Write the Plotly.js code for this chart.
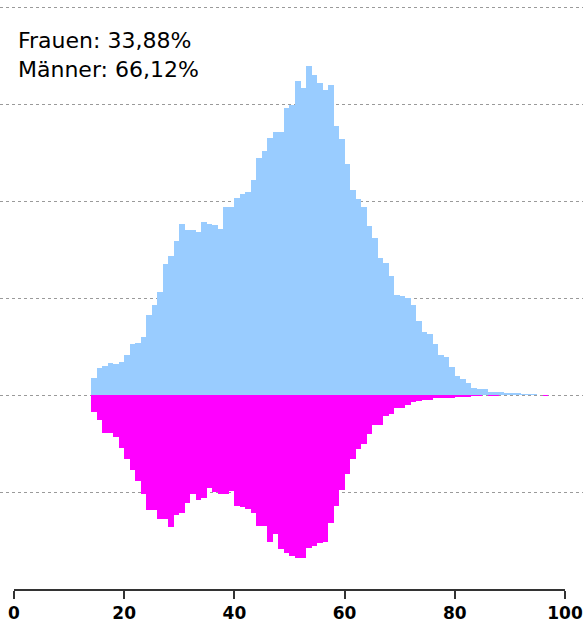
<!DOCTYPE html>
<html>
<head>
<meta charset="utf-8">
<script src="https://cdn.plot.ly/plotly-3.0.1.min.js"></script>
<style>html,body{margin:0;padding:0;background:#fff;}#chart{width:583px;height:629px;}</style>
</head>
<body>
<div id="chart"></div>
<script>
// Age (start of 1-year bin)
const ages = [14,15,16,17,18,19,20,21,22,23,24,25,26,27,28,29,30,31,32,33,34,35,36,37,38,39,40,41,42,43,44,45,46,47,48,49,50,51,52,53,54,55,56,57,58,59,60,61,62,63,64,65,66,67,68,69,70,71,72,73,74,75,76,77,78,79,80,81,82,83,84,85,86,87,88,89,90,91,92,93,94,95,96,97,98,99];

// Männer (drawn above the axis)
const maenner = [17.5,27.8,29.9,33,32,35,41.2,52.6,54.6,60.8,
  82.5,93.8,107.2,136.1,144.3,159.8,177.3,171.1,171.1,169.1,
  179.4,177.3,176.3,172.2,194.9,194.9,204.1,208.2,210.3,222.7,
  245.4,252.6,266,272.2,272.2,296.9,300,324.7,317.5,340.2,
  330.9,322.7,315.5,320.6,278.4,265,239.2,212.4,203.1,194.9,
  175.3,162.9,142.3,137.1,123.7,104.1,103.1,101,93.8,76.3,
  65,62.9,52.6,41.2,39.2,28.9,19.6,16.5,12.4,7.2,
  6.2,6.2,3.1,3.1,3.1,2.6,2.1,2.1,1.5,1,
  1,0.5,0,0,0,0];

// Frauen (drawn below the axis)
const frauen = [17.5,25.3,38.7,38.7,43,54.1,66,77.3,88.4,102.1,
  117.8,117.8,127.1,127.1,135.6,123.7,121.7,111,101.3,108.3,
  106.2,95.4,99.7,102.1,102.1,99,114.4,115.5,117.5,121.7,
  135.1,135.1,151.6,143.3,158.8,162.9,165.5,168,168,157.7,
  155.7,152.6,151.6,132,114.4,97.9,81.4,66,55.7,50.5,
  40.2,30.9,30.9,21.6,19.6,13.4,13.4,10.3,7.2,6.2,
  5.2,5.2,3.1,3.1,3.1,2.6,2.1,1.5,1.5,1,
  1,0,1,1,0,0,0,0,0,0,
  0,0,1,0,0,0];

const xTicks = [0,20,40,60,80,100];
const labelText = 'Frauen: 33,88%<br>Männer: 66,12%';

const traces = [
  {type:'bar', x:ages, y:maenner, width:1, offset:0, name:'Männer',
   marker:{color:'#99ccff', line:{width:0}}, hoverinfo:'x+y'},
  {type:'bar', x:ages, y:frauen.map(v => -v), width:1, offset:0, name:'Frauen',
   marker:{color:'#ff00ff', line:{width:0}}, hoverinfo:'x+y'}
];

const layout = {
  width:583, height:629,
  margin:{l:0, r:0, t:6, b:39, pad:0},
  paper_bgcolor:'#ffffff', plot_bgcolor:'#ffffff',
  barmode:'relative', bargap:0,
  showlegend:false,
  xaxis:{
    range:[-2.54, 103.27], tickvals:xTicks, ticktext:xTicks.map(String),
    ticks:'outside', ticklen:8, tickwidth:2, tickcolor:'#333333',
    showgrid:false, zeroline:false, showline:false,
    tickfont:{family:'DejaVu Sans, Verdana, sans-serif', size:17, color:'#000000', weight:'bold'}
  },
  yaxis:{
    range:[-200.9, 402], dtick:100, tick0:0,
    showgrid:true, gridcolor:'#9a9a9a', gridwidth:1, griddash:'3px,3px',
    zeroline:false, showline:false, showticklabels:false, ticks:''
  },
  shapes:[
    {type:'line', xref:'x', yref:'paper', x0:0, x1:100, y0:0, y1:0,
     line:{color:'#333333', width:2}, layer:'above'}
  ],
  annotations:[
    {text:labelText, xref:'paper', yref:'paper', x:16/583, y:1-(26-6)/584,
     xanchor:'left', yanchor:'top', align:'left', showarrow:false,
     font:{family:'DejaVu Sans, Verdana, sans-serif', size:22, color:'#000000'}}
  ]
};

Plotly.newPlot('chart', traces, layout, {displayModeBar:false, staticPlot:true});
</script>
</body>
</html>
